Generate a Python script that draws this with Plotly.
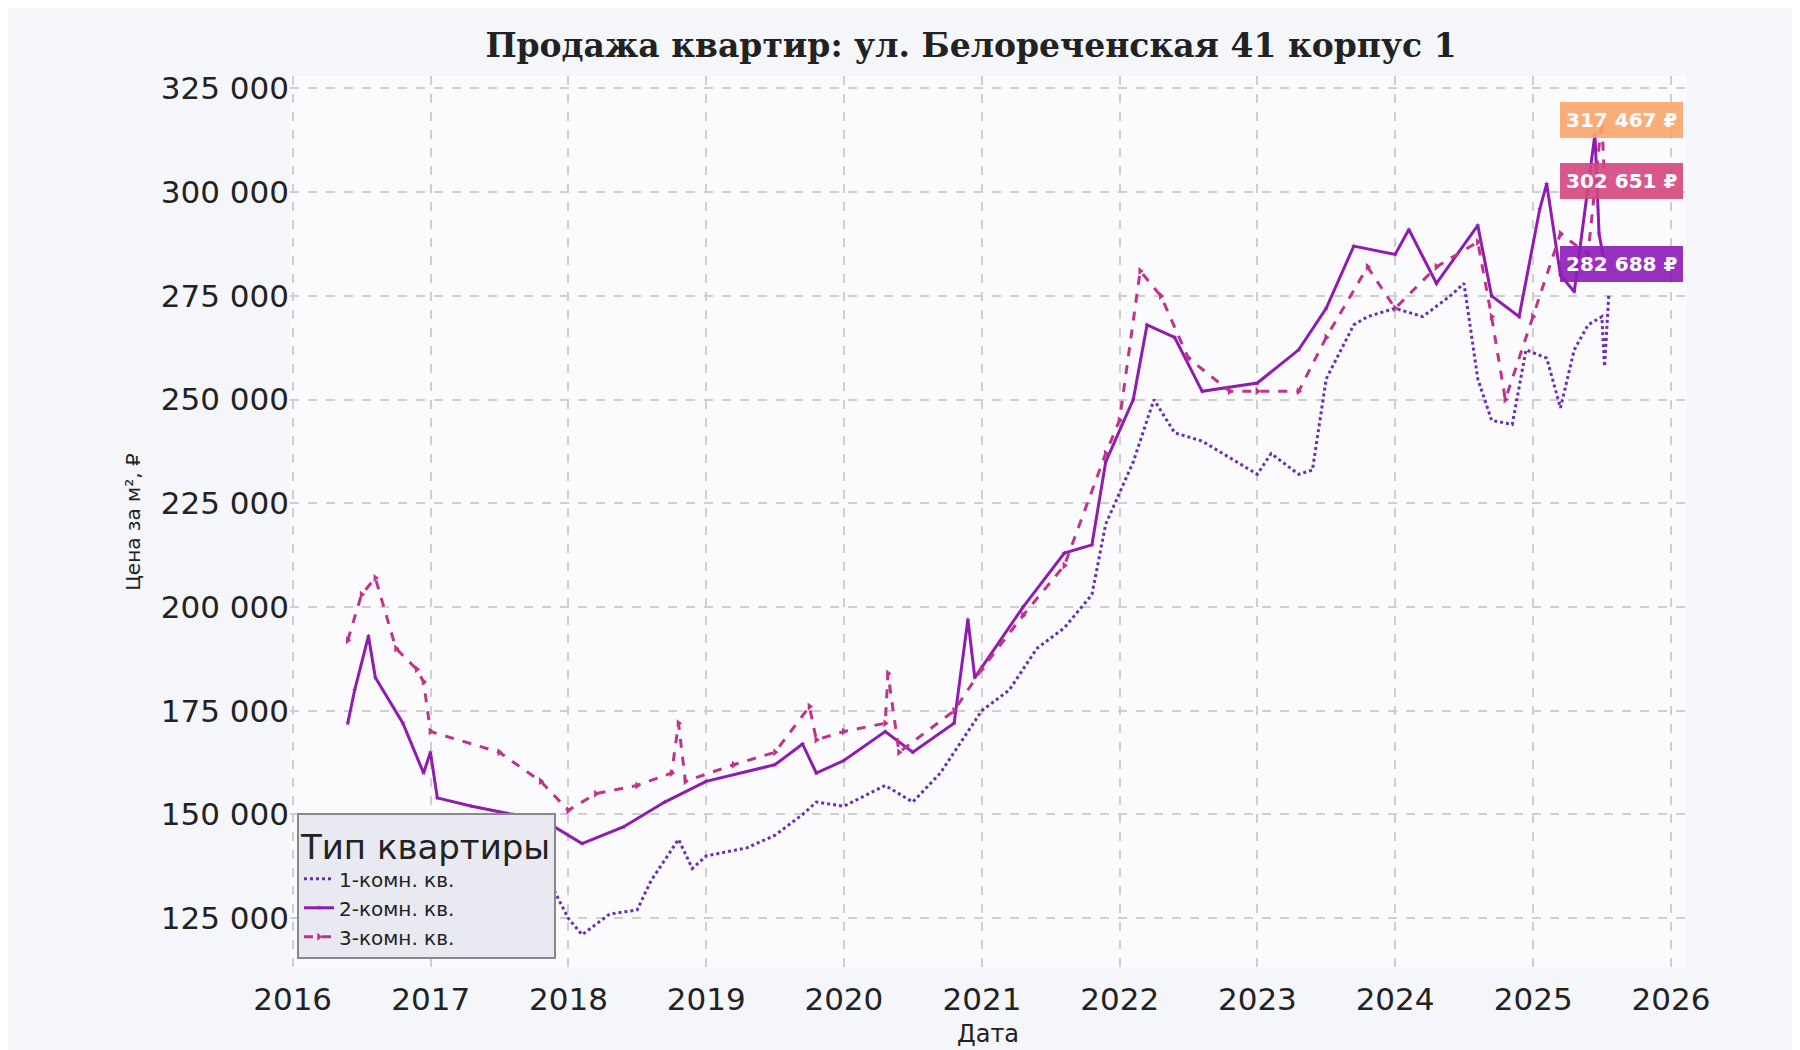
import pandas as pd
import plotly.graph_objects as go


def to_dates(years):
    return [pd.Timestamp('2016-01-01') + pd.Timedelta(days=(y - 2016) * 365.25) for y in years]


x1 = [2016.95, 2017.3, 2017.6, 2017.8, 2018.0, 2018.1, 2018.3, 2018.5, 2018.6, 2018.8, 2018.9, 2019.0, 2019.3, 2019.5,
      2019.7, 2019.8, 2020.0, 2020.3, 2020.5, 2020.7, 2021.0, 2021.2, 2021.4, 2021.6, 2021.8, 2021.9, 2022.1,
      2022.25, 2022.4, 2022.6, 2022.8, 2023.0, 2023.1, 2023.3, 2023.4, 2023.5, 2023.7, 2023.8, 2024.0, 2024.2,
      2024.4, 2024.5, 2024.6, 2024.7, 2024.85, 2024.95, 2025.1, 2025.2, 2025.3, 2025.4, 2025.5, 2025.52, 2025.55]
y1 = [140000, 147000, 150000, 138000, 125000, 121000, 126000, 127000, 134000, 144000, 137000, 140000, 142000, 145000,
      150000, 153000, 152000, 157000, 153000, 160000, 175000, 180000, 190000, 195000, 203000, 220000, 235000,
      250000, 242000, 240000, 236000, 232000, 237000, 232000, 233000, 255000, 268000, 270000, 272000, 270000,
      275000, 278000, 255000, 245000, 244000, 262000, 260000, 248000, 262000, 268000, 270000, 258000, 275000]

x2 = [2016.4, 2016.45, 2016.55, 2016.6, 2016.8, 2016.95, 2017.0, 2017.05, 2017.3, 2017.6, 2017.9, 2018.1, 2018.4,
      2018.7, 2019.0, 2019.5, 2019.7, 2019.8, 2020.0, 2020.3, 2020.5, 2020.8, 2020.9, 2020.95, 2021.3, 2021.6,
      2021.8, 2021.9, 2022.1, 2022.2, 2022.4, 2022.6, 2023.0, 2023.3, 2023.5, 2023.7, 2024.0, 2024.1, 2024.3,
      2024.6, 2024.7, 2024.9, 2025.05, 2025.1, 2025.2, 2025.3, 2025.45, 2025.48, 2025.52]
y2 = [172000, 180000, 193000, 183000, 172000, 160000, 165000, 154000, 152000, 150000, 147000, 143000, 147000,
      153000, 158000, 162000, 167000, 160000, 163000, 170000, 165000, 172000, 197000, 183000, 200000, 213000,
      215000, 235000, 250000, 268000, 265000, 252000, 254000, 262000, 272000, 287000, 285000, 291000, 278000,
      292000, 275000, 270000, 296000, 302000, 280000, 276000, 314000, 290000, 282688]

x3 = [2016.4, 2016.5, 2016.6, 2016.75, 2016.9, 2016.95, 2017.0, 2017.5, 2017.8, 2018.0, 2018.2, 2018.5, 2018.75,
      2018.8, 2018.85, 2019.2, 2019.5, 2019.75, 2019.8, 2020.0, 2020.3, 2020.32, 2020.4, 2020.8, 2021.0, 2021.3,
      2021.6, 2021.9, 2022.0, 2022.15, 2022.3, 2022.5, 2022.8, 2023.0, 2023.3, 2023.5, 2023.8, 2024.0, 2024.3,
      2024.6, 2024.7, 2024.8, 2025.0, 2025.2, 2025.4, 2025.5, 2025.52]
y3 = [192000, 203000, 207000, 190000, 185000, 182000, 170000, 165000, 158000, 151000, 155000, 157000, 160000,
      172000, 158000, 162000, 165000, 176000, 168000, 170000, 172000, 184000, 165000, 175000, 185000, 198000,
      210000, 237000, 245000, 281000, 275000, 260000, 252000, 252000, 252000, 265000, 282000, 272000, 282000,
      288000, 270000, 250000, 270000, 290000, 285000, 317467, 302651]

names = ['1-комн. кв.', '2-комн. кв.', '3-комн. кв.']
label_values = [317467, 302651, 282688]
label_colors = ['#f9a66c', '#d6477f', '#8e1cb8']

fig = go.Figure()
fig.add_trace(go.Scatter(x=to_dates(x1), y=y1, name=names[0], mode='lines',
                         line=dict(color='#6a2fb0', width=3, dash='dot')))
fig.add_trace(go.Scatter(x=to_dates(x2), y=y2, name=names[1], mode='lines+markers',
                         line=dict(color='#8e1cb0', width=3),
                         marker=dict(size=4, symbol='star')))
fig.add_trace(go.Scatter(x=to_dates(x3), y=y3, name=names[2], mode='lines+markers',
                         line=dict(color='#c0338a', width=3, dash='dash'),
                         marker=dict(size=7, symbol='triangle-right')))

for v, c in zip(label_values, label_colors):
    fig.add_annotation(x=0.998, xref='paper', y=v, yref='y', xanchor='right',
                       text='<b>' + f'{v:,}'.replace(',', ' ') + ' ₽</b>', showarrow=False,
                       font=dict(color='white', size=20, family='DejaVu Sans'),
                       bgcolor=c, bordercolor=c, borderpad=5, opacity=0.9)

grid = dict(showgrid=True, gridcolor='#cfcfcf', griddash='dash', gridwidth=2,
            showline=False, zeroline=False, tickfont=dict(size=31, color='#222'))

fig.update_layout(
    width=1800, height=1050,
    paper_bgcolor='#f5f6fa', plot_bgcolor='#fbfbfd',
    font=dict(family='DejaVu Sans', color='#222'),
    title=dict(text='<b>Продажа квартир: ул. Белореченская 41 корпус 1</b>', x=0.535, y=0.975,
               font=dict(family='DejaVu Serif', size=33)),
    margin=dict(l=282, r=122, t=68, b=90),
    xaxis=dict(title=dict(text='Дата', font=dict(size=24), standoff=8),
               range=[pd.Timestamp('2015-12-25'), pd.Timestamp('2026-02-10')],
               dtick='M12', tickformat='%Y', ticks='outside', ticklen=4, tickcolor='#f5f6fa', **grid),
    yaxis=dict(title=dict(text='Цена за м², ₽', font=dict(size=20), standoff=14),
               range=[113000, 328000], tickvals=list(range(125000, 325001, 25000)),
               ticktext=[f'{v:,}'.replace(',', ' ') for v in range(125000, 325001, 25000)], **grid),
    legend=dict(x=0.005, y=0.01, xanchor='left', yanchor='bottom',
                title=dict(text='Тип квартиры', font=dict(size=34)),
                bgcolor='#e9e9f1', bordercolor='#888', borderwidth=2, font=dict(size=20)),
)

fig.write_html("out.html")
